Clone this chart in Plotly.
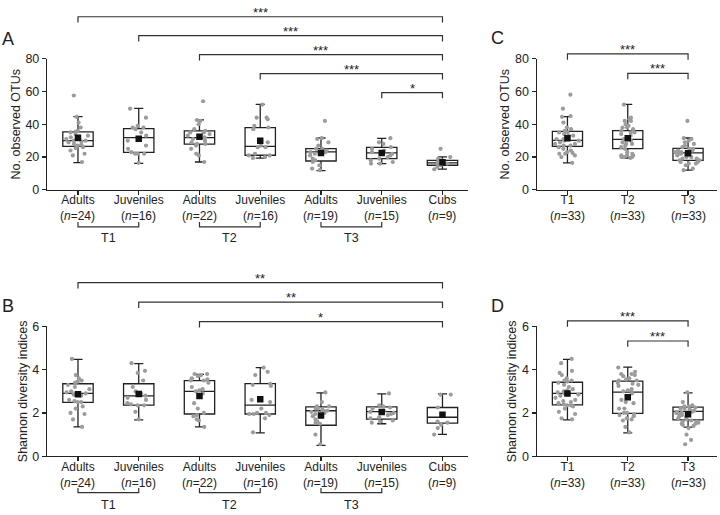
import plotly.graph_objects as go

W, H = 720, 515
FONT = "Liberation Sans, Arial, sans-serif"
INK = "#222222"

# ---------------- categories ----------------
group_names = ["Adults", "Juveniles", "Adults", "Juveniles", "Adults", "Juveniles", "Cubs"]
group_n = [24, 16, 22, 16, 19, 15, 9]
period_names = ["T1", "T2", "T3"]
period_n = [33, 33, 33]
period_pairs = [("T1", 0, 1), ("T2", 2, 3), ("T3", 4, 5)]

# ---------------- Panel A: observed OTUs by group ----------------
otu_grp_points = [
    [17, 21, 22, 24, 25.5, 26, 27, 27.5, 28, 29, 29.5, 30, 30, 31, 32, 33, 34, 35, 35.5, 36, 38, 41, 44.5, 57.5],
    [16.5, 22, 22, 22, 23, 25, 27, 30, 33, 35, 37, 38, 38, 39, 44, 49.5],
    [17, 21, 22, 25, 27, 28, 28, 29, 30, 31, 32, 32, 33, 34, 35, 35, 36, 37, 40, 42, 42.5, 54],
    [19.5, 20, 21, 21, 22, 26, 26, 27, 29, 37, 38, 39, 43, 44, 44, 52],
    [12, 13, 15, 17, 18, 19, 21, 22, 23, 23, 24, 24, 25, 25, 27, 29, 31, 31.5, 42],
    [16, 16, 17, 18, 19, 20, 21, 22, 23, 24, 25, 26, 28, 29, 31.5],
    [12.5, 14, 15, 16, 17, 18, 19, 20, 25],
]
otu_grp_q1 = [26.5, 22.9, 27.9, 21.1, 17.6, 19.0, 15.0]
otu_grp_med = [30.0, 31.8, 31.8, 26.5, 23.1, 22.5, 16.4]
otu_grp_q3 = [35.4, 37.3, 36.0, 37.9, 25.1, 25.9, 18.0]
otu_grp_lo = [16.6, 16.2, 17.0, 19.4, 11.7, 16.0, 12.6]
otu_grp_hi = [44.6, 49.6, 42.7, 52.1, 31.6, 31.4, 20.1]
otu_grp_mean = [31.8, 31.2, 32.4, 30.0, 22.5, 22.5, 16.8]
otu_grp_tests = [(0, 6, "***"), (1, 6, "***"), (2, 6, "***"), (3, 6, "***"), (5, 6, "*")]

# ---------------- Panel C: observed OTUs by period ----------------
otu_per_points = [
    [16.5, 20, 21, 22, 22, 22.5, 23, 24, 25, 26, 27, 27, 28, 28, 29, 30, 30, 31, 31, 32, 33, 33, 34, 35, 35,
     36, 37, 38, 41, 44.5, 45, 49.5, 58],
    [19.5, 20, 20, 20, 21, 21, 21, 22, 23, 25, 26, 27, 28, 28, 29, 30, 31, 32, 33, 34, 35, 35, 36, 37, 38,
     38, 39, 40, 42, 42, 43, 44, 52],
    [12, 13, 15, 16, 16, 17, 17, 18, 18, 19, 19, 20, 20, 21, 21, 22, 22, 23, 23, 23, 24, 24, 24, 25, 25,
     26, 27, 28, 29, 30, 31, 31.5, 42],
]
otu_per_q1 = [26.5, 25.1, 18.0]
otu_per_med = [30.2, 30.8, 22.5]
otu_per_q3 = [35.7, 36.1, 25.3]
otu_per_lo = [16.4, 19.4, 12.0]
otu_per_hi = [44.6, 52.1, 31.6]
otu_per_mean = [31.4, 31.4, 22.3]
otu_per_tests = [(0, 2, "***"), (1, 2, "***")]

# ---------------- Panel B: Shannon by group ----------------
sh_grp_points = [
    [1.35, 1.7, 1.95, 2.0, 2.2, 2.3, 2.5, 2.5, 2.55, 2.6, 2.8, 2.85, 2.9, 2.95, 3.0, 3.1, 3.2, 3.3, 3.4, 3.45, 3.5, 3.6, 3.75, 4.5],
    [1.7, 2.05, 2.35, 2.35, 2.4, 2.45, 2.6, 2.7, 2.8, 2.9, 3.0, 3.2, 3.5, 3.85, 3.95, 4.3],
    [1.35, 1.65, 1.7, 1.85, 1.9, 2.0, 2.2, 2.45, 2.9, 3.0, 3.05, 3.1, 3.2, 3.4, 3.5, 3.5, 3.55, 3.6, 3.7, 3.75, 3.8, 3.8],
    [1.1, 1.75, 1.9, 1.95, 1.95, 2.0, 2.0, 2.2, 2.5, 2.6, 3.25, 3.3, 3.35, 3.75, 3.9, 4.1],
    [0.55, 1.0, 1.5, 1.55, 1.6, 1.7, 1.85, 1.95, 2.0, 2.05, 2.1, 2.1, 2.15, 2.2, 2.2, 2.3, 2.3, 2.5, 2.95],
    [1.55, 1.6, 1.65, 1.75, 1.8, 1.9, 1.95, 2.0, 2.05, 2.1, 2.2, 2.25, 2.3, 2.35, 2.9],
    [1.0, 1.3, 1.45, 1.55, 1.6, 1.85, 2.25, 2.85, 2.85],
]
sh_grp_q1 = [2.49, 2.36, 1.95, 1.95, 1.43, 1.71, 1.53]
sh_grp_med = [2.90, 2.79, 3.00, 2.36, 2.10, 2.06, 1.80]
sh_grp_q3 = [3.35, 3.35, 3.49, 3.36, 2.28, 2.28, 2.25]
sh_grp_lo = [1.35, 1.68, 1.35, 1.08, 0.50, 1.50, 1.01]
sh_grp_hi = [4.48, 4.28, 3.78, 4.10, 2.93, 2.88, 2.88]
sh_grp_mean = [2.86, 2.88, 2.78, 2.63, 1.88, 2.04, 1.92]
sh_grp_tests = [(0, 6, "**"), (1, 6, "**"), (2, 6, "*")]

# ---------------- Panel D: Shannon by period ----------------
sh_per_points = [
    [1.7, 1.75, 1.95, 2.05, 2.2, 2.3, 2.35, 2.35, 2.4, 2.45, 2.5, 2.55, 2.6, 2.7, 2.8, 2.85, 2.9, 2.95, 3.0,
     3.05, 3.1, 3.2, 3.3, 3.4, 3.45, 3.5, 3.5, 3.6, 3.75, 3.85, 3.95, 4.3, 4.5],
    [1.1, 1.35, 1.65, 1.7, 1.75, 1.85, 1.9, 1.95, 2.0, 2.0, 2.2, 2.2, 2.45, 2.5, 2.6, 2.9, 3.0, 3.05, 3.1,
     3.25, 3.3, 3.35, 3.4, 3.5, 3.5, 3.55, 3.6, 3.7, 3.75, 3.8, 3.8, 3.9, 4.1],
    [0.55, 0.75, 1.0, 1.3, 1.4, 1.45, 1.5, 1.5, 1.55, 1.6, 1.6, 1.65, 1.7, 1.75, 1.8, 1.85, 1.9, 1.95, 2.0,
     2.0, 2.05, 2.05, 2.1, 2.1, 2.15, 2.2, 2.2, 2.25, 2.3, 2.3, 2.35, 2.5, 2.95],
]
sh_per_q1 = [2.37, 1.98, 1.68]
sh_per_med = [2.90, 2.96, 2.07]
sh_per_q3 = [3.42, 3.47, 2.27]
sh_per_lo = [1.68, 1.08, 1.34]
sh_per_hi = [4.48, 4.12, 2.93]
sh_per_mean = [2.90, 2.73, 1.94]
sh_per_tests = [(0, 2, "***"), (1, 2, "***")]

# ---------------- figure ----------------
fig = go.Figure()
shapes = []
annotations = []


def add_panel(xa, ya, points, q1, med, q3, lo, hi, mean):
    pos = list(range(len(q1)))
    fig.add_trace(go.Box(
        x=pos, q1=q1, median=med, q3=q3, lowerfence=lo, upperfence=hi,
        xaxis=xa, yaxis=ya, width=0.5, whiskerwidth=0.3,
        fillcolor="white", line=dict(color=INK, width=1.3),
        boxpoints=False, showlegend=False, hoverinfo="skip"))
    xs, ys = [], []
    for i, vals in enumerate(points):
        xs += [i] * len(vals)
        ys += vals
    fig.add_trace(go.Box(
        x=xs, y=ys, xaxis=xa, yaxis=ya, width=0.5,
        boxpoints="all", jitter=0.85, pointpos=0,
        fillcolor="rgba(0,0,0,0)", line=dict(color="rgba(0,0,0,0)", width=0),
        marker=dict(color="#9c9c9c", size=4.2), whiskerwidth=0,
        showlegend=False, hoverinfo="skip"))
    fig.add_trace(go.Scatter(
        x=pos, y=mean, xaxis=xa, yaxis=ya, mode="markers",
        marker=dict(symbol="square", size=6.5, color="#111111"),
        showlegend=False, hoverinfo="skip"))


def add_tests(xa, ya, tests, top, step, tick):
    for k, (i, j, lab) in enumerate(tests):
        lv = top - k * step
        shapes.append(dict(
            type="path", xref=xa, yref=ya + " domain",
            path=f"M{i},{lv - tick} L{i},{lv} L{j},{lv} L{j},{lv - tick}",
            line=dict(color="#333333", width=1.2)))
        annotations.append(dict(
            x=(i + j) / 2, y=lv, xref=xa, yref=ya + " domain", text=lab,
            showarrow=False, yanchor="bottom", yshift=-5,
            font=dict(size=13, color=INK, family=FONT)))


def add_n_labels(xa, ya, counts):
    for i, n in enumerate(counts):
        annotations.append(dict(
            x=i, y=0, xref=xa, yref=ya + " domain", text=f"(<i>n</i>={n})",
            showarrow=False, yanchor="middle", yshift=-26.5,
            font=dict(size=12, color=INK, family=FONT)))


def add_periods(xa, ya, label_shift):
    for lab, i, j in period_pairs:
        shapes.append(dict(
            type="path", xref=xa, yref=ya + " domain",
            path=f"M{i},-0.245 L{i},-0.282 L{j},-0.282 L{j},-0.245",
            line=dict(color="#333333", width=1.2)))
        annotations.append(dict(
            x=(i + j) / 2, y=0, xref=xa, yref=ya + " domain", text=lab,
            showarrow=False, yanchor="middle", yshift=label_shift,
            font=dict(size=12.5, color=INK, family=FONT)))


add_panel("x", "y", otu_grp_points, otu_grp_q1, otu_grp_med, otu_grp_q3, otu_grp_lo, otu_grp_hi, otu_grp_mean)
add_panel("x2", "y2", otu_per_points, otu_per_q1, otu_per_med, otu_per_q3, otu_per_lo, otu_per_hi, otu_per_mean)
add_panel("x3", "y3", sh_grp_points, sh_grp_q1, sh_grp_med, sh_grp_q3, sh_grp_lo, sh_grp_hi, sh_grp_mean)
add_panel("x4", "y4", sh_per_points, sh_per_q1, sh_per_med, sh_per_q3, sh_per_lo, sh_per_hi, sh_per_mean)

add_tests("x", "y", otu_grp_tests, 1.3185, 0.1444, 0.044)
add_tests("x2", "y2", otu_per_tests, 1.035, 0.148, 0.044)
add_tests("x3", "y3", sh_grp_tests, 1.338, 0.150, 0.045)
add_tests("x4", "y4", sh_per_tests, 1.043, 0.155, 0.045)
add_n_labels("x", "y", group_n)
add_n_labels("x2", "y2", period_n)
add_n_labels("x3", "y3", group_n)
add_n_labels("x4", "y4", period_n)
add_periods("x", "y", -48.5)
add_periods("x3", "y3", -48.5)

xcommon = dict(showline=True, linecolor=INK, linewidth=1.2, ticks="outside", ticklen=4,
               tickcolor=INK, tickwidth=1.2, showgrid=False, zeroline=False, ticklabelstandoff=-5,
               tickfont=dict(size=12, color=INK, family=FONT), fixedrange=True)
ycommon = dict(showline=True, linecolor=INK, linewidth=1.2, ticks="outside", ticklen=4,
               tickcolor=INK, tickwidth=1.2, showgrid=False, zeroline=False,
               tickfont=dict(size=12.5, color=INK, family=FONT), fixedrange=True)

left_dom = [47 / W, 468 / W]
right_dom = [536.7 / W, 717 / W]
top_dom = [1 - 188 / H, 1 - 53 / H]
bot_dom = [1 - 461.7 / H, 1 - 328.4 / H]

ytitle_font = dict(size=12.5, family=FONT, color=INK)

fig.update_layout(
    width=W, height=H, margin=dict(l=0, r=0, t=0, b=0),
    paper_bgcolor="white", plot_bgcolor="white", boxmode="overlay",
    font=dict(family=FONT, color=INK, size=12.5),
    xaxis=dict(domain=left_dom, anchor="y", range=[-0.51, 6.42], tickvals=list(range(7)),
               ticktext=group_names, **xcommon),
    yaxis=dict(domain=top_dom, anchor="x", range=[0, 80], tickvals=[0, 20, 40, 60, 80],
               title=dict(text="No. observed OTUs", standoff=2, font=ytitle_font), **ycommon),
    xaxis2=dict(domain=right_dom, anchor="y2", range=[-0.51, 2.48], tickvals=list(range(3)),
                ticktext=period_names, **xcommon),
    yaxis2=dict(domain=top_dom, anchor="x2", range=[0, 80], tickvals=[0, 20, 40, 60, 80],
                title=dict(text="No. observed OTUs", standoff=2, font=ytitle_font), **ycommon),
    xaxis3=dict(domain=left_dom, anchor="y3", range=[-0.51, 6.42], tickvals=list(range(7)),
                ticktext=group_names, **xcommon),
    yaxis3=dict(domain=bot_dom, anchor="x3", range=[0, 6], tickvals=[0, 2, 4, 6],
                title=dict(text="Shannon diversity indices", standoff=2, font=ytitle_font), **ycommon),
    xaxis4=dict(domain=right_dom, anchor="y4", range=[-0.51, 2.48], tickvals=list(range(3)),
                ticktext=period_names, **xcommon),
    yaxis4=dict(domain=bot_dom, anchor="x4", range=[0, 6], tickvals=[0, 2, 4, 6],
                title=dict(text="Shannon diversity indices", standoff=2, font=ytitle_font), **ycommon),
)

for lab, px, py in [("A", 8, 33), ("B", 8, 307), ("C", 497, 32), ("D", 497, 307)]:
    annotations.append(dict(x=px / W, y=1 - py / H, xref="paper", yref="paper", text=lab,
                            showarrow=False, xanchor="center", yanchor="middle",
                            font=dict(size=18, color=INK, family=FONT)))

fig.update_layout(shapes=shapes, annotations=annotations)
fig.write_html("out.html", config={"displayModeBar": False, "staticPlot": True},
               post_script="document.body.style.margin='0';document.body.style.overflow='hidden';")
